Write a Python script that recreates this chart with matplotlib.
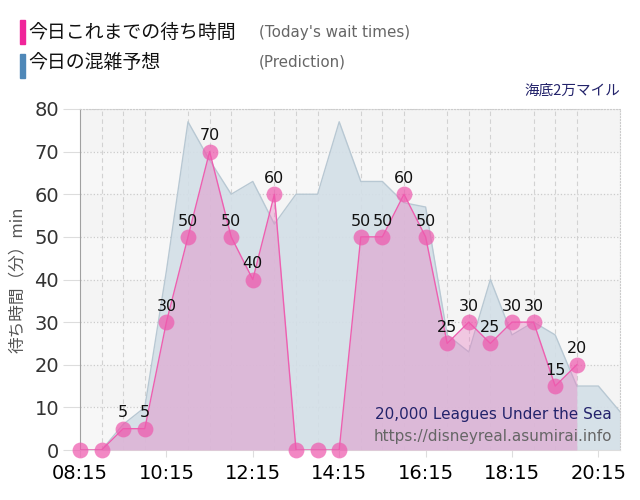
import numpy as np
import matplotlib
matplotlib.use("Agg")
import matplotlib.pyplot as plt

plt.rcParams['font.family'] = ['DejaVu Sans', 'Noto Sans CJK JP']

# wait times every 30 min from 08:15 (minutes after 08:15)
actual_min = [i * 30 for i in range(24)]
actual = [0, 0, 5, 5, 30, 50, 70, 50, 40, 60, 0, 0, 0,
          50, 50, 60, 50, 25, 30, 25, 30, 30, 15, 20]

pred_min = [i * 30 for i in range(26)]
pred = [0, 0, 6, 10, 42, 77, 68, 60, 63, 53, 60, 60, 77,
        63, 63, 58, 57, 27, 23, 40, 27, 30, 27, 15, 15, 9]

tick_min = [0, 120, 240, 360, 480, 600, 720]
tick_labels = ['08:15', '10:15', '12:15', '14:15', '16:15', '18:15', '20:15']

fig = plt.figure(figsize=(6.4, 5.0), dpi=100)
ax = fig.add_axes([0.125, 0.1, 0.84375, 0.682])
ax.set_facecolor('#f4f4f4')
for lo in range(0, 80, 20):
    ax.axhspan(lo, lo + 10, color='#f7f7f7', zorder=0, lw=0)

# prediction area
ax.fill_between(pred_min, pred, 0, color='#d3dfe7', alpha=0.9, zorder=2, lw=0)
ax.plot(pred_min, pred, color='#b8c8d3', lw=1, zorder=2)

# today's wait times
ax.fill_between(actual_min, actual, 0, color='#e77fc2', alpha=0.4, zorder=3, lw=0)
ax.plot(actual_min, actual, color='#ee5fb0', lw=1, zorder=4)
ax.scatter(actual_min, actual, s=130, color='#ee5aae', alpha=0.72, lw=0,
           zorder=5, clip_on=False)
for xm, v in zip(actual_min, actual):
    if xm == 0 or v == 0:
        continue
    ax.annotate(str(v), (xm, v), xytext=(0, 6), textcoords='offset points',
                ha='center', va='bottom', fontsize=11.5, color='#111111', zorder=6)

ax.set_xlim(0, 750)
ax.set_ylim(0, 80)
ax.set_xticks(tick_min)
ax.set_xticklabels(tick_labels, fontsize=14)
ax.set_yticks(range(0, 81, 10))
ax.set_yticklabels([str(v) for v in range(0, 81, 10)], fontsize=14, color='#333333')
ax.tick_params(axis='y', length=12, color='#dddddd', pad=3)
ax.tick_params(axis='x', length=5, color='#dddddd', pad=5)

ax.set_xticks(range(0, 751, 30), minor=True)
ax.tick_params(axis='x', which='minor', length=0)
ax.grid(axis='x', which='minor', color='#d2d2d2', ls=(0, (4, 3)), lw=0.8, zorder=1)
ax.grid(axis='y', color='#cccccc', ls=':', lw=0.9, zorder=1)
ax.set_axisbelow(True)

for s in ['top', 'right']:
    ax.spines[s].set_color('#cccccc')
    ax.spines[s].set_linestyle(':')
ax.spines['left'].set_color('#a0a0a0')
ax.spines['bottom'].set_color('#dddddd')

ax.set_ylabel('待ち時間（分）min', fontsize=12, color='#555555', labelpad=6,
              family=['Noto Sans CJK JP', 'DejaVu Sans'])

ax.text(0.985, 0.105, '20,000 Leagues Under the Sea', transform=ax.transAxes,
        ha='right', va='center', fontsize=11, color='#23236b', zorder=7)
ax.text(0.985, 0.041, 'https://disneyreal.asumirai.info', transform=ax.transAxes,
        ha='right', va='center', fontsize=11, color='#666666', zorder=7)

# legend header
fig.patches.append(plt.Rectangle((20 / 640, 1 - 44 / 500), 5 / 640, 24 / 500,
                                 transform=fig.transFigure, color='#f0259a'))
fig.patches.append(plt.Rectangle((20 / 640, 1 - 78 / 500), 5 / 640, 24 / 500,
                                 transform=fig.transFigure, color='#4f88b8'))
fig.text(28 / 640, 1 - 32 / 500, '今日これまでの待ち時間', fontsize=13.6,
         va='center', family=['Noto Sans CJK JP'], color='#111111')
fig.text(28 / 640, 1 - 62 / 500, '今日の混雑予想', fontsize=13.6,
         va='center', family=['Noto Sans CJK JP'], color='#111111')
fig.text(259 / 640, 1 - 32 / 500, "(Today's wait times)", fontsize=10.9,
         va='center', color='#666666')
fig.text(259 / 640, 1 - 62 / 500, '(Prediction)', fontsize=10.9,
         va='center', color='#666666')
fig.text(620 / 640, 1 - 91 / 500, '海底2万マイル', fontsize=10.5, ha='right',
         va='center', family=['Noto Sans CJK JP'], color='#23236b')

fig.savefig('out.png', dpi=100)
